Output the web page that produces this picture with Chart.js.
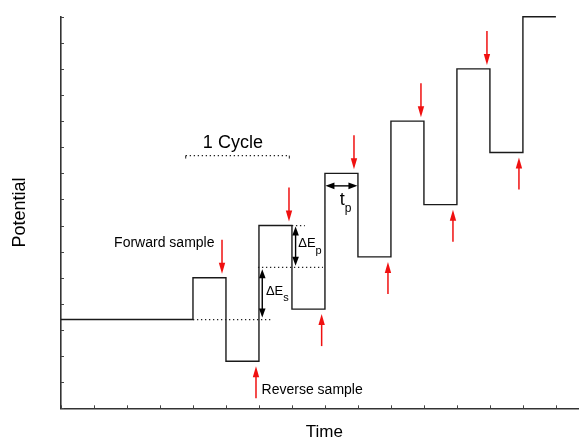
<!DOCTYPE html>
<html><head><meta charset="utf-8">
<script src="https://cdn.jsdelivr.net/npm/chart.js@4"></script>
<style>html,body{margin:0;padding:0;background:#fff}</style>
</head><body>
<canvas id="c" width="579" height="438"></canvas>
<script>
// ---- data ----
const stepTimes  = [0, 4, 5, 6, 7, 8, 9, 10, 11, 12, 13, 14, 15];
const potentials = [3.4, 5.0, 1.8, 7.0, 3.8, 9.0, 5.8, 11.0, 7.8, 13.0, 9.8, 15.0, 15.0];
const forwardSampleTimes  = [4.88, 6.91, 8.88, 10.91, 12.91];
const forwardSampleLevels = [5.0, 7.0, 9.0, 11.0, 13.0];
const reverseSampleTimes  = [5.91, 7.90, 9.91, 11.88, 13.88];
const reverseSampleLevels = [1.8, 3.8, 5.8, 7.8, 9.8];
const xTickValues = [0,1,2,3,4,5,6,7,8,9,10,11,12,13,14,15];
const yTickValues = [0,1,2,3,4,5,6,7,8,9,10,11,12,13,14,15];

const FONT = "'Liberation Sans', Arial, Helvetica, sans-serif";

function arrowHead(ctx, x1, y1, x2, y2, len, hw) {
  const a = Math.atan2(y2 - y1, x2 - x1);
  ctx.beginPath();
  ctx.moveTo(x2, y2);
  ctx.lineTo(x2 - len*Math.cos(a) + hw*Math.sin(a), y2 - len*Math.sin(a) - hw*Math.cos(a));
  ctx.lineTo(x2 - len*Math.cos(a) - hw*Math.sin(a), y2 - len*Math.sin(a) + hw*Math.cos(a));
  ctx.closePath();
  ctx.fill();
}
function arrow(ctx, x1, y1, x2, y2, color, len, hw, lw, both) {
  ctx.save();
  ctx.strokeStyle = color; ctx.fillStyle = color; ctx.lineWidth = lw;
  const a = Math.atan2(y2 - y1, x2 - x1);
  const sx = both ? x1 + (len-1)*Math.cos(a) : x1, sy = both ? y1 + (len-1)*Math.sin(a) : y1;
  ctx.beginPath();
  ctx.moveTo(sx, sy);
  ctx.lineTo(x2 - (len-1)*Math.cos(a), y2 - (len-1)*Math.sin(a));
  ctx.stroke();
  arrowHead(ctx, x1, y1, x2, y2, len, hw);
  if (both) arrowHead(ctx, x2, y2, x1, y1, len, hw);
  ctx.restore();
}
function subText(ctx, main, sub, x, y, size, subSize, dy) {
  ctx.font = size + 'px ' + FONT;
  ctx.fillText(main, x, y);
  const w = ctx.measureText(main).width;
  ctx.font = subSize + 'px ' + FONT;
  ctx.fillText(sub, x + w, y + dy);
}

const annot = {
  id: 'annot',
  afterDatasetsDraw(chart) {
    const {ctx, scales: {x, y}} = chart;
    const px = v => x.getPixelForValue(v), py = v => y.getPixelForValue(v);
    ctx.save();
    // inward ticks
    ctx.strokeStyle = '#444'; ctx.lineWidth = 1;
    const y0 = py(0), x0 = px(0);
    xTickValues.forEach(v => { const p = Math.round(px(v)) + 0.5; ctx.beginPath(); ctx.moveTo(p, y0); ctx.lineTo(p, y0 - 3); ctx.stroke(); });
    yTickValues.forEach(v => { const p = Math.round(py(v)) + 0.5; ctx.beginPath(); ctx.moveTo(x0, p); ctx.lineTo(x0 + 3, p); ctx.stroke(); });

    // dotted guide lines
    ctx.strokeStyle = '#222'; ctx.lineWidth = 1.2; ctx.setLineDash([1.3, 2.7]);
    const dotted = [[4.0, 6.35, 3.4], [5.97, 7.94, 5.4], [7.0, 7.39, 7.0], [3.78, 6.92, 9.68]];
    dotted.forEach(d => { ctx.beginPath(); ctx.moveTo(px(d[0]), py(d[2])); ctx.lineTo(px(d[1]), py(d[2])); ctx.stroke(); });
    ctx.setLineDash([]);
    ctx.lineWidth = 1;
    [3.78, 6.92].forEach(t => { ctx.beginPath(); ctx.moveTo(px(t), py(9.68)); ctx.lineTo(px(t), py(9.68) + 3); ctx.stroke(); });

    // red sample arrows
    forwardSampleTimes.forEach((t, i) => {
      const X = px(t), Y = py(forwardSampleLevels[i]);
      arrow(ctx, X, Y - 38, X, Y - 4, '#f01010', 11, 3.2, 1.5, false);
    });
    reverseSampleTimes.forEach((t, i) => {
      const X = px(t), Y = py(reverseSampleLevels[i]);
      arrow(ctx, X, Y + 37, X, Y + 5, '#f01010', 11, 3.2, 1.5, false);
    });

    // black double arrows
    arrow(ctx, px(6.1), py(5.4) + 2, px(6.1), py(3.4) - 2, '#000', 9, 3.3, 1.4, true);
    arrow(ctx, px(7.11), py(7.0) + 1, px(7.11), py(5.4) - 1.5, '#000', 9, 3.3, 1.4, true);
    arrow(ctx, px(8.0) + 0.5, py(8.52), px(9.0) - 0.5, py(8.52), '#000', 9, 3.3, 1.4, true);

    // texts
    ctx.fillStyle = '#000'; ctx.textBaseline = 'alphabetic'; ctx.textAlign = 'left';
    ctx.font = '18px ' + FONT;
    ctx.fillText('1 Cycle', px(4.30), py(9.97));
    ctx.font = '14px ' + FONT;
    ctx.fillText('Forward sample', px(1.61), py(6.19));
    ctx.fillText('Reverse sample', px(6.08), py(0.55));
    subText(ctx, '\u0394E', 's', px(6.21), py(4.34), 13, 11, 5.7);
    subText(ctx, '\u0394E', 'p', px(7.19), py(6.17), 13, 11, 6.5);
    subText(ctx, 't', 'p', px(8.45), py(7.79), 18, 12, 7.4);

    // x-axis title
    ctx.font = '17px ' + FONT; ctx.textAlign = 'center';
    ctx.fillText('Time', px(7.98), y0 + 28.4);
    ctx.restore();
  }
};

new Chart(document.getElementById('c'), {
  type: 'line',
  data: {
    datasets: [{
      data: stepTimes.map((t, i) => ({x: t, y: potentials[i]})),
      stepped: true,
      borderColor: '#1a1a1a',
      borderWidth: 1.4,
      pointRadius: 0,
      fill: false,
      clip: false
    }]
  },
  options: {
    responsive: false,
    animation: false,
    devicePixelRatio: 1,
    layout: {padding: {top: 16.7, right: 0, left: 0, bottom: 29.7}},
    plugins: {legend: {display: false}, tooltip: {enabled: false}},
    scales: {
      x: {
        type: 'linear', min: 0, max: 15.7,
        ticks: {display: false, stepSize: 1},
        grid: {display: false, drawTicks: false},
        border: {display: true, color: '#333', width: 1.6},
        title: {display: false}
      },
      y: {
        type: 'linear', min: 0, max: 15,
        ticks: {display: false, stepSize: 1},
        grid: {display: false, drawTicks: false},
        border: {display: true, color: '#333', width: 1.6},
        title: {display: true, text: 'Potential', color: '#000',
                font: {size: 18, family: FONT, lineHeight: 1.2},
                padding: {top: 8.9, bottom: 30.5}}
      }
    }
  },
  plugins: [annot]
});
</script>
</body></html>
